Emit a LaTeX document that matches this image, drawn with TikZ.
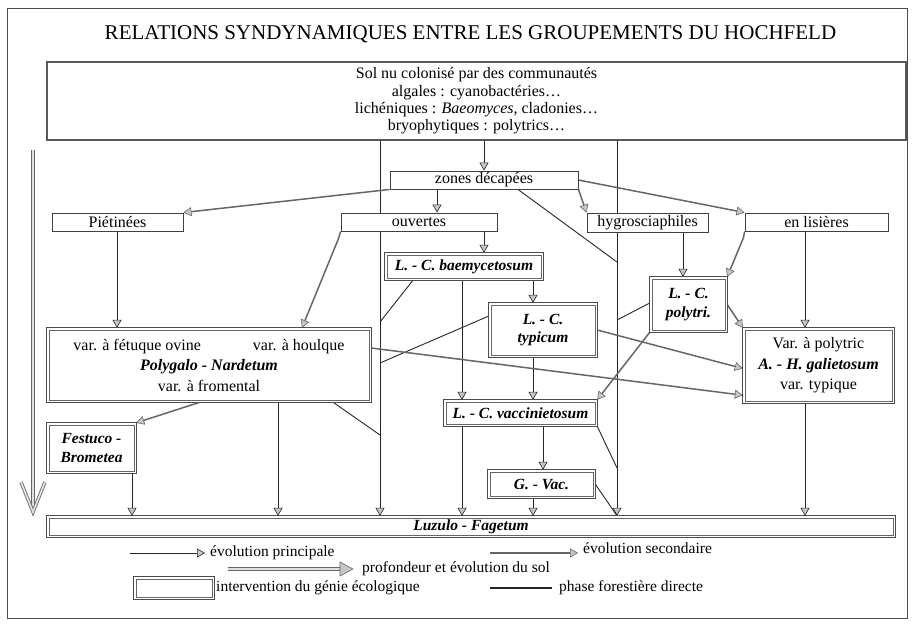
\documentclass[tikz,border=0pt]{standalone}
\usepackage{fontspec}
\setmainfont{Liberation Serif}
\usetikzlibrary{arrows.meta,backgrounds}
\tikzset{
  plainbox/.style={draw=black!75, line width=0.9pt, fill=white, inner sep=0pt, align=center},
  assocnode/.style={fill=white, inner sep=0pt, align=center, font=\fontsize{15.5}{18.5}\selectfont\bfseries\itshape},
  frameouter/.style={draw=black!70, line width=1.3pt},
  frameinner/.style={draw=black!60, line width=0.6pt},
  solbox/.style={draw=black!65, line width=1.6pt, fill=white, inner sep=0pt, align=center},
  tiptri/.tip={Triangle[width=9pt,length=8pt,fill=gray!45,line width=0.6pt]},
  principal/.style={draw=black!85, line width=0.8pt, -tiptri},
  secondary/.style={draw=black!60, line width=1.5pt, -tiptri},
  forest/.style={draw=black!85, line width=0.9pt},
  forestarrow/.style={forest, -tiptri},
  deep/.style={draw=black!60, line width=0.8pt, double=gray!25, double distance=1.8pt},
  legendtext/.style={anchor=west, inner sep=0pt, font=\fontsize{15.5}{17}\selectfont},
  titlestyle/.style={inner sep=0pt, font=\fontsize{21}{24}\selectfont}
}
\begin{document}
\begin{tikzpicture}[x=1pt,y=-1pt, font=\fontsize{16}{17.3}\selectfont]
\useasboundingbox (0,0) rectangle (912,627);
% frame
\draw[draw=black!70, line width=0.9pt] (7,8) rectangle (907,618);

\node[titlestyle] (title) at (470.5,34) {RELATIONS SYNDYNAMIQUES ENTRE LES GROUPEMENTS DU HOCHFELD};

% x positions
\foreach \xx in {117,132,200,278,302,333,380,413,437,462,484,518,533,543,617,683,805}
  \coordinate (x\xx) at (\xx,0);

% nodes
\node[solbox, minimum width=859pt, minimum height=78pt] (sol) at (476.5,101)
  {Sol nu colonisé par des communautés\\ algales : cyanobactéries\ldots\\ lichéniques : \textit{Baeomyces}, cladonies\ldots\\ bryophytiques : polytrics\ldots};
\node[plainbox, minimum width=188pt, minimum height=18pt] (zones) at (484,180) {zones décapées};
\node[plainbox, minimum width=131pt, minimum height=18pt] (piet) at (117.5,222) {Piétinées};
\node[plainbox, minimum width=156pt, minimum height=18pt] (ouv) at (419,222) {ouvertes};
\node[plainbox, minimum width=121pt, minimum height=19pt] (hyg) at (647.5,222.5) {hygrosciaphiles};
\node[plainbox, minimum width=143pt, minimum height=18pt] (lis) at (816.5,222) {en lisières};
\node[assocnode, minimum width=158pt, minimum height=27pt] (baem) at (464,266.5) {L. - C. baemycetosum};
\node[assocnode, minimum width=108pt, minimum height=54pt] (typ) at (543,330) {L. - C.\\ typicum};
\node[assocnode, minimum width=77pt, minimum height=55pt] (poly) at (688.5,304.5) {L. - C.\\ polytri.};
\node[assocnode, font=\fontsize{16}{20.5}\selectfont, minimum width=324pt, minimum height=74pt] (polyg) at (209,365)
  {var. à fétuque ovine\hspace{52pt}var. à houlque\\ \textbf{\textit{Polygalo - Nardetum}}\\ var. à fromental};
\node[assocnode, font=\fontsize{16}{20.5}\selectfont, minimum width=151pt, minimum height=75pt] (gal) at (818.5,365.5)
  {Var. à polytric\\ \textbf{\textit{A. - H. galietosum}}\\ var. typique};
\node[assocnode, minimum width=153pt, minimum height=26pt] (vacc) at (520.5,413) {L. - C. vaccinietosum};
\node[assocnode, minimum width=89pt, minimum height=50pt] (fest) at (91.5,448) {Festuco -\\ Brometea};
\node[assocnode, minimum width=107pt, minimum height=28pt] (gvac) at (541.5,484) {G. - Vac.};
\node[assocnode, minimum width=848pt, minimum height=21pt] (luz) at (471,526.5) {Luzulo - Fagetum};
\node[assocnode, minimum width=80pt, minimum height=22pt] (lbox) at (174,588) {};

% double frames of the associations
\foreach \n in {baem,typ,poly,polyg,gal,vacc,fest,gvac,luz,lbox} {
  \draw[frameouter] (\n.south west) rectangle (\n.north east);
  \draw[frameinner] ([shift={(2.4pt,2.4pt)}]\n.south west) rectangle ([shift={(-2.4pt,-2.4pt)}]\n.north east);
}

% junction points
\coordinate (jA1) at (380,322);
\coordinate (jA2) at (380,363);
\coordinate (jA3) at (380,435);
\coordinate (jB1) at (617,262);
\coordinate (jB2) at (617,320);
\coordinate (jB3) at (617,468);
\coordinate (topL) at (33,150);
\coordinate (botL) at (33,512);

\begin{pgfonlayer}{background}
% long vertical forest lines
\draw[forestarrow] (sol.south -| x380) -- (luz.north -| x380);
\draw[forestarrow] (sol.south -| x617) -- (luz.north -| x617);
% junctions
\draw[forest] (baem.south -| x413) -- (jA1);
\draw[forest] ([yshift=14pt]typ.west) -- (jA2);
\draw[forest] (polyg.south -| x333) -- (jA3);
\draw[forest] (zones.south -| x518) -- (jB1);
\draw[forest] ([yshift=1.5pt]poly.west) -- (jB2);
\draw[forest] (vacc.south east) -- (jB3);
\draw[forest] (gvac.east) -- (luz.north -| x617);
% principal arrows
\draw[principal] (sol.south -| x484) -- (zones.north -| x484);
\draw[principal] (zones.south -| x437) -- (ouv.north -| x437);
\draw[principal] (ouv.south -| x484) -- (baem.north -| x484);
\draw[principal] (piet.south -| x117) -- (polyg.north -| x117);
\draw[principal] (hyg.south -| x683) -- (poly.north -| x683);
\draw[principal] (lis.south -| x805) -- (gal.north -| x805);
\draw[principal] (baem.south -| x533) -- (typ.north -| x533);
\draw[principal] (baem.south -| x462) -- (vacc.north -| x462);
\draw[principal] (typ.south -| x533) -- (vacc.north -| x533);
\draw[principal] (vacc.south -| x543) -- (gvac.north -| x543);
\draw[principal] (vacc.south -| x462) -- (luz.north -| x462);
\draw[principal] (gvac.south -| x533) -- (luz.north -| x533);
\draw[principal] (polyg.south -| x278) -- (luz.north -| x278);
\draw[principal] (fest.south -| x132) -- (luz.north -| x132);
\draw[principal] (gal.south -| x805) -- (luz.north -| x805);
% secondary arrows
\draw[secondary] (zones.south west) -- (piet.north east);
\draw[secondary] (zones.south east) -- (hyg.north west);
\draw[secondary] (zones.east) -- (lis.north west);
\draw[secondary] (ouv.south west) -- ++(-2,7) -- (polyg.north -| x302);
\draw[secondary] (lis.south west) -- ++(-1,6) -- (poly.north east);
\draw[secondary] (poly.east) -- (gal.north west);
\draw[secondary] (poly.south west) -- (vacc.north east);
\draw[secondary] (typ.east) -- ([yshift=-3pt]gal.west);
\draw[secondary] ([yshift=17pt]polyg.east) -- ([yshift=8pt]gal.south west);
\draw[secondary] (polyg.south -| x200) -- (fest.north east);
% depth arrow on the left
\draw[deep] (topL) -- (botL);
\draw[deep, line join=miter] (21,482) -- (botL) -- (45,482);
\end{pgfonlayer}

% legend
\coordinate (l1a) at (130,553); \coordinate (l1b) at (205,553);
\draw[principal] (l1a) -- (l1b);
\node[legendtext] (t1) at (210,553) {évolution principale};
\coordinate (l2a) at (490,553); \coordinate (l2b) at (578,553);
\draw[secondary] (l2a) -- (l2b);
\node[legendtext] (t2) at (583,548) {évolution secondaire};
\coordinate (l3a) at (228,569); \coordinate (l3b) at (340,569);
\draw[deep] (l3a) -- (l3b);
\draw[draw=black!60, line width=0.6pt, fill=gray!45] (340,562) -- (353,569) -- (340,576) -- cycle;
\node[legendtext] (t3) at (362,569) {profondeur et évolution du sol};
\node[legendtext] (t4) at (216,588) {intervention du génie écologique};
\coordinate (l5a) at (490,588); \coordinate (l5b) at (552,588);
\draw[forest, line width=1.3pt] (l5a) -- (l5b);
\node[legendtext] (t5) at (559,588) {phase forestière directe};
\end{tikzpicture}
\end{document}
